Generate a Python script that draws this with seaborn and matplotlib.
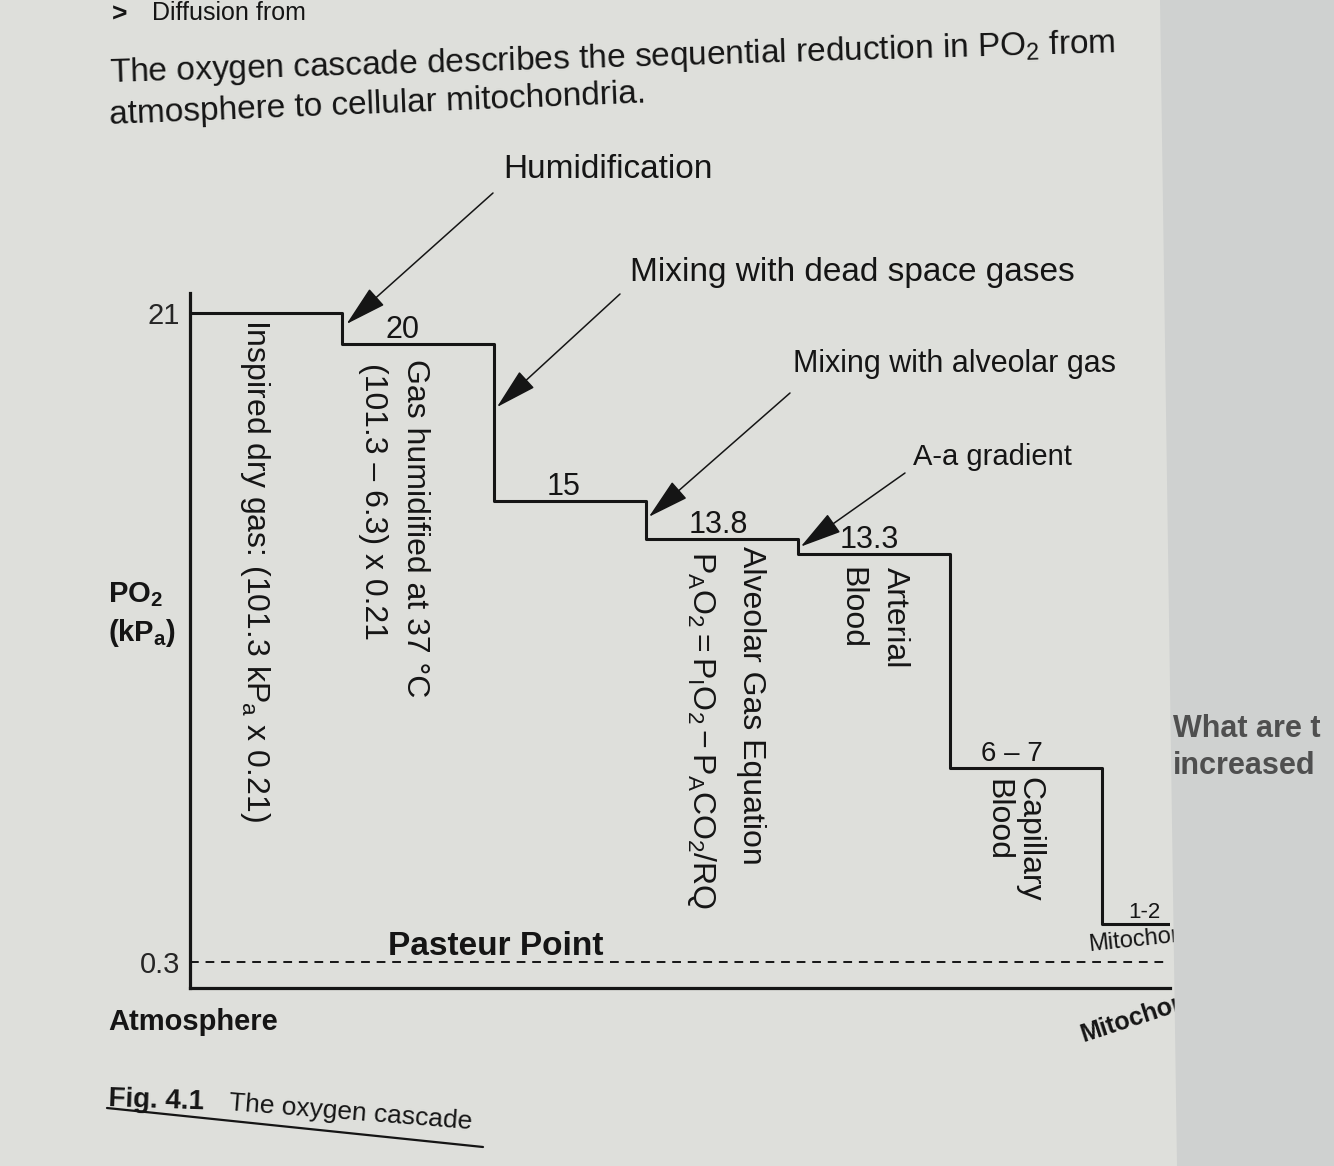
import matplotlib
matplotlib.use('Agg')
import matplotlib.pyplot as plt
from matplotlib.lines import Line2D
from matplotlib.patches import Polygon
import pandas as pd
import seaborn as sns

W, H = 1334, 1166
PAGE = '#dedfdb'
NEXT_PAGE = '#cfd1d0'
INK = '#151515'

# Cascade values (kPa), one per stage
stage_names = ['Inspired dry gas', 'Humidified gas', 'Dead space mixing', 'Alveolar gas',
               'Arterial blood', 'Capillary blood', 'Mitochondria']
po2 = [21, 20, 15, 13.8, 13.3, 6.5, 1.5]
level_labels = ['21', '20', '15', '13.8', '13.3', '6 – 7', '1-2']
pasteur_po2 = 0.3
ytick_values = [21, 0.3]
ytick_labels = ['21', '0.3']
last_stage_width = 0.45

sns.set_theme(style='white', rc={'axes.facecolor': 'none', 'figure.facecolor': PAGE})
plt.rcParams['font.family'] = ['Liberation Sans', 'DejaVu Sans']
plt.rcParams['mathtext.fontset'] = 'custom'
plt.rcParams['mathtext.rm'] = 'Liberation Sans'
plt.rcParams['mathtext.it'] = 'Liberation Sans:italic'
plt.rcParams['mathtext.bf'] = 'Liberation Sans:bold'
plt.rcParams['text.color'] = INK


def fxy(x, y):
    # pixel position in the reference -> figure fraction
    return x / W, 1 - y / H


fig = plt.figure(figsize=(W / 100, H / 100), dpi=100)
ax = fig.add_axes([190 / W, 1 - 988 / H, 980 / W, (988 - 293) / H])

# Step line
step_x = list(range(len(po2))) + [len(po2) - 1 + last_stage_width]
step_y = po2 + [po2[-1]]
df = pd.DataFrame({'stage': step_x, 'po2': step_y})
sns.lineplot(data=df, x='stage', y='po2', drawstyle='steps-post', color=INK,
             lw=2.2, ax=ax)
ax.axhline(pasteur_po2, color=INK, lw=1.4, dashes=(4.5, 3.5))

ax.set_xlim(0, step_x[-1])
ax.set_ylim(-0.53, 21.64)
ax.set(xlabel='', ylabel='')
ax.set_xticks([])
ax.set_yticks(ytick_values)
ax.set_yticklabels(ytick_labels, fontsize=21)
ax.tick_params(axis='y', length=0, pad=7)
for side in ['top', 'right']:
    ax.spines[side].set_visible(False)
for side in ['left', 'bottom']:
    ax.spines[side].set_color(INK)
    ax.spines[side].set_linewidth(2.3)

# Level values above each step
label_frac = [None, 0.40, 0.46, 0.48, 0.47, 0.41, 0.28]
label_size = [None, 22, 22, 22, 22, 20, 16]
for i in range(1, len(po2)):
    ax.annotate(level_labels[i], xy=(i + label_frac[i], po2[i]), xytext=(0, 4.5),
                textcoords='offset points', ha='center', va='baseline',
                fontsize=label_size[i])


def vlabel(stage, frac, drop_px, text, size=23):
    ax.annotate(text, xy=(stage + frac, po2[stage]), xytext=(0, -drop_px * 0.72),
                textcoords='offset points', rotation=-90, rotation_mode='anchor',
                ha='left', va='baseline', fontsize=size)


vlabel(0, 0.375, 6, r'Inspired dry gas: (101.3 kP$_{\mathregular{a}}$ x 0.21)')
vlabel(1, 0.43, 15, 'Gas humidified at 37 °C')
vlabel(1, 0.15, 19, '(101.3 – 6.3) x 0.21')
vlabel(3, 0.64, 7, 'Alveolar Gas Equation')
vlabel(3, 0.31, 12, r'$\mathregular{P_AO_2 = P_IO_2 - P_ACO_2/RQ}$')
vlabel(4, 0.585, 13, 'Arterial')
vlabel(4, 0.30, 13, 'Blood')
vlabel(5, 0.47, 9, 'Capillary')
vlabel(5, 0.26, 11, 'Blood')

# Arrows pointing at the drops
arrows = [
    ('Humidification', (503, 178), 24, (493, 193), (1.03, 20.65)),
    ('Mixing with dead space gases', (630, 281), 24, (620, 294), (2.02, 18.0)),
    ('Mixing with alveolar gas', (793, 372), 22, (790, 393), (3.02, 14.5)),
    ('A-a gradient', (913, 465), 21, (905, 473), (4.02, 13.55)),
]
for text, tpos, size, tail, tip in arrows:
    fig.text(*fxy(*tpos), text, fontsize=size, ha='left', va='baseline')
    ax.annotate('', xy=tip, xycoords='data', xytext=fxy(*tail),
                textcoords='figure fraction',
                arrowprops=dict(arrowstyle='-|>,head_length=1.2,head_width=0.32',
                                color=INK, lw=1.1, mutation_scale=22,
                                shrinkA=0, shrinkB=0))

ax.annotate('Pasteur Point', xy=(1.30, pasteur_po2), xytext=(0, 5),
            textcoords='offset points', ha='left', va='baseline',
            fontsize=24, fontweight='bold')
ax.annotate('Mitochondria', xy=(len(po2) - 1, po2[-1]), xytext=(-9, -19),
            textcoords='offset points', ha='left', va='baseline',
            rotation=6, rotation_mode='anchor', fontsize=17)

# Axis labels
fig.text(*fxy(108, 602), r'$\mathbf{PO_2}$', fontsize=21, ha='left', va='baseline')
fig.text(*fxy(108, 641), r'(kP$_{\mathbf{a}}$)', fontsize=21, fontweight='bold',
         ha='left', va='baseline')
fig.text(*fxy(108, 1030), 'Atmosphere', fontsize=21, fontweight='bold',
         ha='left', va='baseline')
fig.text(*fxy(1083, 1042), 'Mitochondria', fontsize=18, fontweight='bold',
         ha='left', va='baseline', rotation=18, rotation_mode='anchor')

# Page text around the figure
fig.text(*fxy(112, 22), '>', fontsize=19, fontweight='bold', ha='left', va='baseline')
fig.text(*fxy(152, 20), 'Diffusion from', fontsize=18, ha='left', va='baseline')
fig.text(*fxy(110, 82), r'The oxygen cascade describes the sequential reduction in '
         r'$\mathregular{PO_2}$ from', fontsize=24, ha='left', va='baseline',
         rotation=1.7, rotation_mode='anchor')
fig.text(*fxy(110, 124), 'atmosphere to cellular mitochondria.', fontsize=24,
         ha='left', va='baseline', rotation=2.3, rotation_mode='anchor')

fig.text(*fxy(108, 1106), 'Fig. 4.1', fontsize=20, fontweight='bold',
         ha='left', va='baseline', rotation=-2, rotation_mode='anchor')
fig.text(*fxy(228, 1110), 'The oxygen cascade', fontsize=19,
         ha='left', va='baseline', rotation=-4.5, rotation_mode='anchor')
x0, y0 = fxy(107, 1108)
x1, y1 = fxy(483, 1147)
fig.add_artist(Line2D([x0, x1], [y0, y1], color=INK, lw=1.6))

# Facing page on the right
fig.add_artist(Polygon([fxy(1160, 0), fxy(W, 0), fxy(W, H), fxy(1177, H)],
                       closed=True, facecolor=NEXT_PAGE, edgecolor='none', zorder=5))
fig.text(*fxy(1173, 737), 'What are t', fontsize=22, fontweight='bold',
         color='#4f4f4f', ha='left', va='baseline', zorder=6)
fig.text(*fxy(1173, 774), 'increased', fontsize=22, fontweight='bold',
         color='#4f4f4f', ha='left', va='baseline', zorder=6)

fig.savefig('out.png', dpi=100, facecolor=PAGE)
